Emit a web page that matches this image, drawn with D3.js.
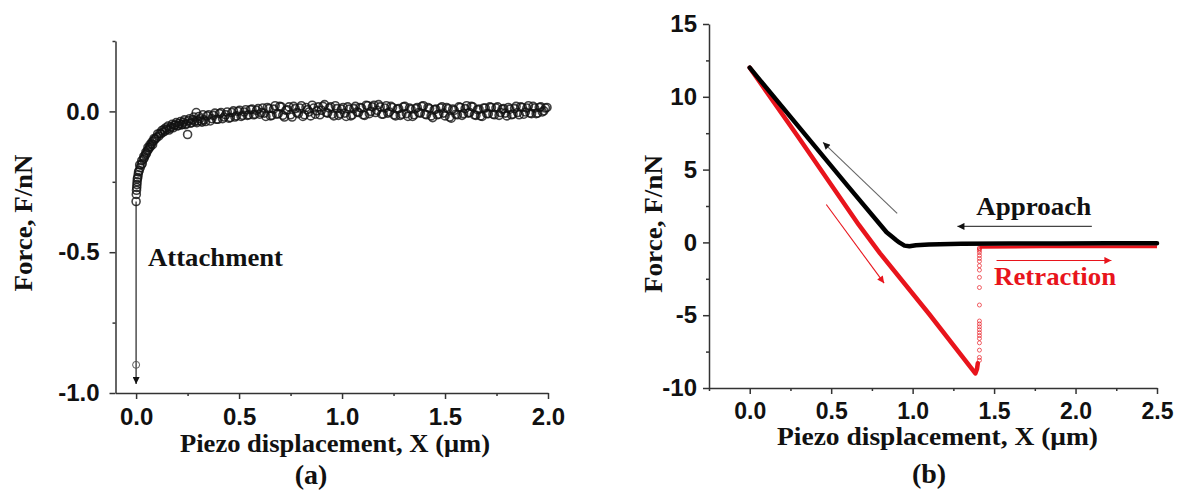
<!DOCTYPE html>
<html>
<head>
<meta charset="utf-8">
<script src="https://cdn.jsdelivr.net/npm/d3@7"></script>
<style>
  body { margin: 0; background: #fff; }
  .tick text { font-family: "Liberation Sans", Arial, sans-serif; font-weight: bold; font-size: 24px; fill: #111; }
  .domain, .tick line { stroke: #333; stroke-width: 1.5px; }
  .ttl { font-family: "Liberation Serif", "Times New Roman", serif; font-weight: bold; font-size: 26px; fill: #111; }
</style>
</head>
<body>
<svg width="1179" height="495"></svg>
<script>
// (a) attachment curve - piezo displacement (um) / force (nN)
var colX = [0.000,0.001,0.002,0.003,0.004,0.005,0.006,0.008,0.010,0.012]
var colY = [-0.32,-0.295,-0.28,-0.27,-0.26,-0.25,-0.24,-0.235,-0.225,-0.215]
var riseX = [0.015,0.020,0.025,0.030,0.035,0.040,0.045,0.050,0.055,0.060,0.065,0.070,0.075,0.080,0.085,0.090,0.095,0.100,
             0.110,0.120,0.130,0.140,0.150,0.160,0.170,0.180,0.190,0.200,0.210,0.220,0.230,0.240,0.250,0.255,0.265,0.275,
             0.285,0.292,0.300,0.310,0.320,
             0.330,0.345,0.360,0.375,0.390,0.405,0.420,0.435,0.450,0.465,0.480,0.495,0.510,0.525,0.540,0.555,0.570,0.585,0.600]
var riseY = [-0.21,-0.20,-0.19,-0.185,-0.17,-0.165,-0.155,-0.15,-0.14,-0.135,-0.128,-0.125,-0.115,-0.118,-0.105,-0.10,-0.097,-0.092,
             -0.088,-0.080,-0.074,-0.070,-0.064,-0.066,-0.055,-0.058,-0.048,-0.052,-0.043,-0.048,-0.038,-0.047,-0.082,-0.033,-0.042,-0.030,
             -0.036,-0.004,-0.034,-0.026,-0.038,
             -0.030,-0.016,-0.034,-0.014,-0.028,-0.008,-0.026,-0.012,-0.024,-0.004,-0.020,0.000,-0.018,-0.002,-0.014,0.006,-0.012,0.004,-0.010]
var rise2X = [0.0175,0.0275,0.0375,0.0475,0.0575,0.0675,0.0775,0.0875,
              0.105,0.115,0.125,0.135,0.145,0.155,0.165,0.175,0.185,0.195,0.205,0.215,0.225,0.235,0.245,
              0.26,0.27,0.28,0.295,0.305,0.315,0.325,
              0.3375,0.3525,0.3675,0.3825,0.3975,0.4125,0.4275,0.4425,0.4575,0.4725,0.4875,0.5025,0.5175,0.5325,0.5475,0.5625,0.5775,0.5925,0.6075]
var rise2Y = [-0.19,-0.175,-0.16,-0.145,-0.128,-0.118,-0.108,-0.096,
              -0.080,-0.078,-0.068,-0.064,-0.058,-0.052,-0.060,-0.046,-0.050,-0.040,-0.050,-0.036,-0.046,-0.030,-0.044,
              -0.026,-0.040,-0.020,-0.040,-0.018,-0.034,-0.012,
              -0.036,-0.012,-0.026,-0.006,-0.028,-0.004,-0.020,-0.002,-0.022,0.002,-0.016,0.004,-0.014,0.006,-0.012,0.008,-0.010,0.010,-0.004]
var flatX = [0.615,0.63,0.645,0.66,0.675,0.69,0.705,0.72,0.735,0.75,0.765,0.78,0.795,0.81,0.825,0.84,0.855,0.87,0.885,0.90,
             0.915,0.93,0.945,0.96,0.975,0.99,1.005,1.02,1.035,1.05,1.065,1.08,1.095,1.11,1.125,1.14,1.155,1.17,1.185,1.20,
             1.215,1.23,1.245,1.26,1.275,1.29,1.305,1.32,1.335,1.35,1.365,1.38,1.395,1.41,1.425,1.44,1.455,1.47,1.485,1.50,
             1.515,1.53,1.545,1.56,1.575,1.59,1.605,1.62,1.635,1.65,1.665,1.68,1.695,1.71,1.725,1.74,1.755,1.77,1.785,1.80,
             1.815,1.83,1.845,1.86,1.875,1.89,1.905,1.92,1.935,1.95,1.965,1.98,1.995]
var flatY = [0.012,-0.018,0.010,-0.014,0.020,-0.008,0.016,-0.020,0.006,-0.012,0.018,-0.004,0.012,-0.018,0.014,-0.002,0.022,-0.010,0.016,0.004,
             0.024,-0.006,0.016,-0.016,0.010,-0.008,0.014,-0.018,0.008,-0.012,0.018,-0.004,0.012,-0.014,0.020,0.000,0.022,0.004,0.016,-0.010,
             0.020,-0.002,0.014,-0.016,0.010,-0.010,0.018,-0.018,0.008,-0.012,0.014,-0.006,0.020,-0.012,0.010,-0.022,0.008,-0.010,0.016,-0.016,
             0.010,-0.024,0.004,-0.012,0.014,-0.008,0.020,-0.004,0.016,-0.014,0.008,-0.018,0.012,-0.008,0.014,-0.012,0.016,-0.004,0.010,-0.016,
             0.008,-0.010,0.018,-0.012,0.014,-0.002,0.020,-0.008,0.012,-0.006,0.016,0.002,0.014]
var flat2X = [0.6225,0.6375,0.6525,0.6675,0.6825,0.6975,0.7125,0.7275,0.7425,0.7575,0.7725,0.7875,0.8025,0.8175,0.8325,0.8475,0.8625,0.8775,0.8925,0.9075,
              0.9225,0.9375,0.9525,0.9675,0.9825,0.9975,1.0125,1.0275,1.0425,1.0575,1.0725,1.0875,1.1025,1.1175,1.1325,1.1475,1.1625,1.1775,1.1925,1.2075,
              1.2225,1.2375,1.2525,1.2675,1.2825,1.2975,1.3125,1.3275,1.3425,1.3575,1.3725,1.3875,1.4025,1.4175,1.4325,1.4475,1.4625,1.4775,1.4925,1.5075,
              1.5225,1.5375,1.5525,1.5675,1.5825,1.5975,1.6125,1.6275,1.6425,1.6575,1.6725,1.6875,1.7025,1.7175,1.7325,1.7475,1.7625,1.7775,1.7925,1.8075,
              1.8225,1.8375,1.8525,1.8675,1.8825,1.8975,1.9125,1.9275,1.9425,1.9575,1.9725,1.9875]
var flat2Y = [-0.006,0.014,-0.016,0.008,-0.010,0.018,-0.014,0.004,0.016,-0.020,0.010,-0.008,0.020,-0.012,0.006,-0.016,0.012,0.002,-0.012,0.018,
              -0.004,0.012,-0.010,0.020,-0.014,0.008,-0.006,0.016,-0.016,0.010,-0.002,0.014,-0.012,0.022,-0.008,0.016,-0.004,0.024,-0.010,0.012,
              -0.006,0.018,-0.012,0.008,-0.014,0.016,-0.008,0.012,-0.018,0.010,-0.004,0.018,-0.010,0.014,-0.016,0.006,-0.012,0.012,-0.006,0.014,
              -0.020,0.008,-0.010,0.016,-0.014,0.010,-0.006,0.018,-0.012,0.006,-0.016,0.012,-0.008,0.016,-0.010,0.012,-0.014,0.008,-0.006,0.014,
              -0.012,0.010,-0.004,0.016,-0.010,0.012,-0.006,0.018,-0.008,0.014,-0.002,0.012]
var detachPoint = [0.0, -0.90]
var attachArrow = [[0.0, -0.32], [0.0, -0.968]]

// (b) approach / retraction curves
var approachX = [2.5,2.2,1.9,1.6,1.3,1.1,1.02,0.98,0.95,0.92,0.90,0.876,0.84,0.6,0.3,0.0]
var approachY = [-0.05,-0.06,-0.07,-0.08,-0.1,-0.14,-0.2,-0.27,-0.22,-0.02,0.15,0.37,0.7,3.9,7.95,12.0]
var retractX = [0.0,0.3,0.67,0.8,1.1,1.385,1.395,1.40]
var retractY = [12.0,7.2,1.2,-0.75,-4.9,-9.0,-8.7,-8.3]
var snapY = [-8.1,-7.9,-7.4,-6.9,-6.6,-6.4,-6.2,-6.0,-5.8,-5.6,-5.4,-4.3,-3.1,-2.4,-1.9,-1.6,-1.3,-1.1,-0.9,-0.7,-0.55,-0.45,-0.38]
var snapX = 1.41
var offX = [1.41,1.8,2.2,2.5]
var offY = [-0.33,-0.3,-0.3,-0.3]

var svg = d3.select('svg')
var defs = svg.append('defs')
function marker(id, col, w, h) {
  defs.append('marker').attr('id', id)
      .attr('viewBox', '0 0 10 10').attr('refX', 10).attr('refY', 5)
      .attr('markerUnits', 'userSpaceOnUse')
      .attr('markerWidth', w).attr('markerHeight', h)
      .attr('orient', 'auto')
    .append('path').attr('d', 'M0,0 L10,5 L0,10 z').attr('fill', col)
}
marker('hk', '#111', 10, 7)
marker('hr', '#e8141c', 10, 7)

/* ---------------- panel (a) ---------------- */
var xL = d3.scaleLinear().domain([-0.1, 2.0]).range([115.5, 548])
var yL = d3.scaleLinear().domain([-1.0, 0.25]).range([393, 41])
var gA = svg.append('g')

var axBL = gA.append('g').attr('transform', 'translate(0,393)')
    .call(d3.axisBottom(xL).tickValues([0, 0.5, 1.0, 1.5, 2.0]).tickSize(6).tickSizeOuter(0)
          .tickFormat(function(d){ return d.toFixed(1) }))
axBL.selectAll('text').attr('dy', null).attr('y', 32)
gA.append('g').attr('transform', 'translate(0,393)')
    .call(d3.axisBottom(xL).tickValues([0.25, 0.75, 1.25, 1.75]).tickSize(3).tickFormat(''))
    .select('.domain').remove()

gA.append('g').attr('transform', 'translate(115.5,0)')
    .call(d3.axisLeft(yL).tickValues([-1.0, -0.5, 0.0]).tickSize(6).tickSizeOuter(0).tickPadding(10)
          .tickFormat(function(d){ return d.toFixed(1) }))
gA.append('g').attr('transform', 'translate(115.5,0)')
    .call(d3.axisLeft(yL).tickValues([-0.75, -0.25, 0.25]).tickSize(3).tickFormat(''))
    .select('.domain').remove()

// attachment arrow
gA.append('line')
    .attr('x1', xL(attachArrow[0][0])).attr('y1', yL(attachArrow[0][1]))
    .attr('x2', xL(attachArrow[1][0])).attr('y2', yL(attachArrow[1][1]))
    .attr('stroke', '#333').attr('stroke-width', 1.3).attr('marker-end', 'url(#hk)')

var ptsA = []
function addPts(xs, ys) { xs.forEach(function(x, i){ ptsA.push([x, ys[i]]) }) }
addPts(colX, colY)
addPts(riseX, riseY)
addPts(rise2X, rise2Y)
addPts(flatX, flatY)
addPts(flat2X, flat2Y)

gA.selectAll('circle.pa')
    .data(ptsA)
    .enter()
    .append('circle')
    .attr('class', 'pa')
    .attr('cx', function(d){ return xL(d[0]) })
    .attr('cy', function(d){ return yL(d[1]) })
    .attr('r', 4)
    .attr('fill', 'none')
    .attr('stroke', '#111')
    .attr('stroke-opacity', 0.8)
    .attr('stroke-width', 1.6)

gA.append('circle')
    .attr('cx', xL(detachPoint[0])).attr('cy', yL(detachPoint[1])).attr('r', 3.5)
    .attr('fill', 'none').attr('stroke', '#555').attr('stroke-width', 1)

gA.append('text').attr('class', 'ttl')
    .attr('x', xL(0.058)).attr('y', yL(-0.55))
    .attr('textLength', 135).attr('lengthAdjust', 'spacingAndGlyphs')
    .text('Attachment')

gA.append('text').attr('class', 'ttl')
    .attr('x', 180).attr('y', 452)
    .attr('textLength', 310).attr('lengthAdjust', 'spacingAndGlyphs')
    .text('Piezo displacement, X (\u03bcm)')
gA.append('text').attr('class', 'ttl')
    .attr('transform', 'translate(32,223) rotate(-90)')
    .attr('text-anchor', 'middle')
    .attr('textLength', 137).attr('lengthAdjust', 'spacingAndGlyphs')
    .text('Force, F/nN')
gA.append('text').attr('class', 'ttl')
    .attr('x', 311).attr('y', 484).attr('text-anchor', 'middle')
    .style('font-size', '28px')
    .text('(a)')

/* ---------------- panel (b) ---------------- */
var xR = d3.scaleLinear().domain([-0.25, 2.5]).range([709, 1157])
var yR = d3.scaleLinear().domain([-10, 15]).range([388, 24])
var gB = svg.append('g')

var axBR = gB.append('g').attr('transform', 'translate(0,388)')
    .call(d3.axisBottom(xR).tickValues([0, 0.5, 1.0, 1.5, 2.0, 2.5]).tickSize(6).tickSizeOuter(0)
          .tickFormat(function(d){ return d.toFixed(1) }))
axBR.selectAll('text').attr('dy', null).attr('y', 31).style('font-size', '23px')
gB.append('g').attr('transform', 'translate(0,388)')
    .call(d3.axisBottom(xR).tickValues([-0.25, 0.25, 0.75, 1.25, 1.75, 2.25]).tickSize(3).tickFormat(''))
    .select('.domain').remove()

gB.append('g').attr('transform', 'translate(709,0)')
    .call(d3.axisLeft(yR).tickValues([-10, -5, 0, 5, 10, 15]).tickSize(6).tickSizeOuter(0).tickPadding(6)
          .tickFormat(function(d){ return String(d) }))
gB.append('g').attr('transform', 'translate(709,0)')
    .call(d3.axisLeft(yR).tickValues([-7.5, -2.5, 2.5, 7.5, 12.5]).tickSize(3).tickFormat(''))
    .select('.domain').remove()

var lineR = d3.line()
    .x(function(d){ return xR(d[0]) })
    .y(function(d){ return yR(d[1]) })

var retract = retractX.map(function(x, i){ return [x, retractY[i]] })
var off = offX.map(function(x, i){ return [x, offY[i]] })
var approach = approachX.map(function(x, i){ return [x, approachY[i]] })

gB.append('path').datum(off)
    .attr('d', lineR).attr('fill', 'none')
    .attr('stroke', '#e8141c').attr('stroke-width', 3)
gB.append('path').datum(retract)
    .attr('d', lineR).attr('fill', 'none')
    .attr('stroke', '#e8141c').attr('stroke-width', 4.5)
    .attr('stroke-linejoin', 'round').attr('stroke-linecap', 'round')

gB.selectAll('circle.snap')
    .data(snapY)
    .enter()
    .append('circle')
    .attr('class', 'snap')
    .attr('cx', xR(snapX))
    .attr('cy', function(d){ return yR(d) })
    .attr('r', 2)
    .attr('fill', 'none')
    .attr('stroke', '#e8141c')
    .attr('stroke-opacity', 0.75)
    .attr('stroke-width', 0.9)

gB.append('path').datum(approach)
    .attr('d', lineR).attr('fill', 'none')
    .attr('stroke', '#000').attr('stroke-width', 4.5)
    .attr('stroke-linejoin', 'round').attr('stroke-linecap', 'round')

// direction arrows
function arrow(x1, y1, x2, y2, col, mk) {
  gB.append('line')
      .attr('x1', xR(x1)).attr('y1', yR(y1))
      .attr('x2', xR(x2)).attr('y2', yR(y2))
      .attr('stroke', col).attr('stroke-width', 1.1)
      .attr('marker-end', 'url(#' + mk + ')')
}
arrow(0.905, 2.0, 0.45, 6.87, '#666', 'hk')
arrow(0.47, 2.6, 0.825, -2.8, '#e8141c', 'hr')
arrow(2.10, 1.1, 1.275, 1.1, '#444', 'hk')
arrow(1.515, -1.24, 2.22, -1.24, '#e8141c', 'hr')

gB.append('text').attr('class', 'ttl')
    .attr('x', xR(1.39)).attr('y', yR(1.85))
    .attr('textLength', 115).attr('lengthAdjust', 'spacingAndGlyphs')
    .text('Approach')
gB.append('text').attr('class', 'ttl')
    .attr('x', xR(1.50)).attr('y', yR(-2.95))
    .attr('textLength', 122).attr('lengthAdjust', 'spacingAndGlyphs')
    .style('fill', '#e8141c')
    .text('Retraction')

gB.append('text').attr('class', 'ttl')
    .attr('x', 777).attr('y', 445)
    .attr('textLength', 321).attr('lengthAdjust', 'spacingAndGlyphs')
    .text('Piezo displacement, X (\u03bcm)')
gB.append('text').attr('class', 'ttl')
    .attr('transform', 'translate(662,224) rotate(-90)')
    .attr('text-anchor', 'middle')
    .attr('textLength', 138).attr('lengthAdjust', 'spacingAndGlyphs')
    .text('Force, F/nN')
gB.append('text').attr('class', 'ttl')
    .attr('x', 929).attr('y', 483).attr('text-anchor', 'middle')
    .style('font-size', '28px')
    .text('(b)')
</script>
</body>
</html>
